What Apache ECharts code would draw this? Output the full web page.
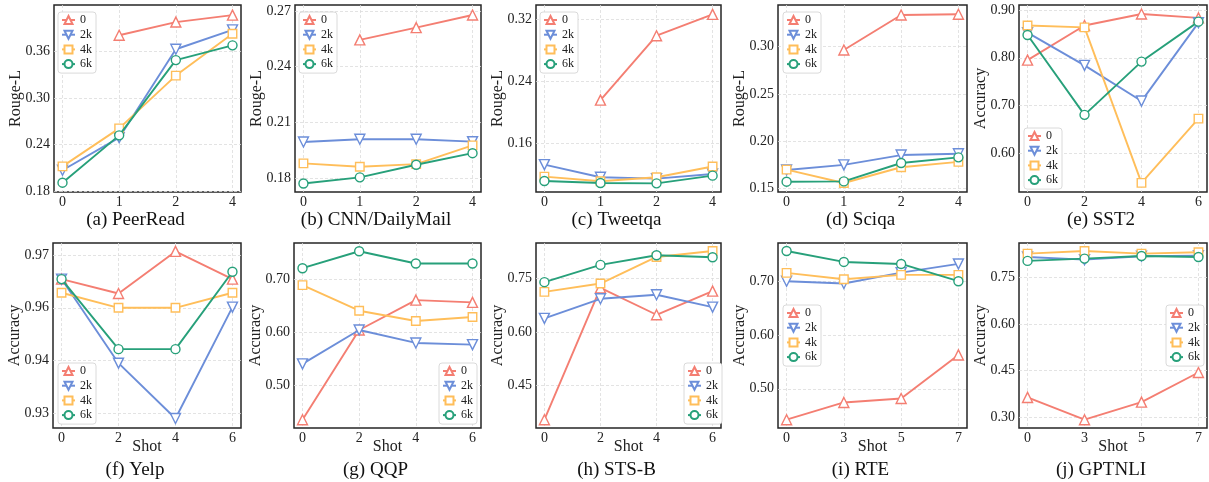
<!DOCTYPE html>
<html>
<head>
<meta charset="utf-8">
<script src="https://cdn.jsdelivr.net/npm/echarts@6/dist/echarts.min.js"></script>
<style>
html,body{margin:0;padding:0;background:#fff;}
#chart{width:1209px;height:482px;}
</style>
</head>
<body>
<div id="chart"></div>
<script>
// ---------- DATA ----------
const seriesNames = ['0', '2k', '4k', '6k'];

// (a) PeerRead
const peerReadX = ['0', '1', '2', '4'];
const peerReadYTicks = [0.18, 0.24, 0.30, 0.36];
const peerReadYLabels = ['0.18', '0.24', '0.30', '0.36'];
const peerRead0 = [null, 0.381, 0.398, 0.407];
const peerRead2k = [0.207, 0.249, 0.363, 0.388];
const peerRead4k = [0.212, 0.261, 0.329, 0.383];
const peerRead6k = [0.191, 0.252, 0.349, 0.368];

// (b) CNN/DailyMail
const cnnX = ['0', '1', '2', '4'];
const cnnYTicks = [0.18, 0.21, 0.24, 0.27];
const cnnYLabels = ['0.18', '0.21', '0.24', '0.27'];
const cnn0 = [null, 0.2544, 0.2610, 0.2678];
const cnn2k = [0.1994, 0.2009, 0.2009, 0.1996];
const cnn4k = [0.1879, 0.1861, 0.1875, 0.1976];
const cnn6k = [0.1771, 0.1804, 0.1872, 0.1934];

// (c) Tweetqa
const tweetX = ['0', '1', '2', '4'];
const tweetYTicks = [0.16, 0.24, 0.32];
const tweetYLabels = ['0.16', '0.24', '0.32'];
const tweet0 = [null, 0.2154, 0.2988, 0.3265];
const tweet2k = [0.1319, 0.1155, 0.1137, 0.1198];
const tweet4k = [0.1163, 0.1103, 0.1155, 0.1294];
const tweet6k = [0.1107, 0.1081, 0.1076, 0.1176];

// (d) Sciqa
const sciqaX = ['0', '1', '2', '4'];
const sciqaYTicks = [0.15, 0.20, 0.25, 0.30];
const sciqaYLabels = ['0.15', '0.20', '0.25', '0.30'];
const sciqa0 = [null, 0.2965, 0.3335, 0.3342];
const sciqa2k = [0.1698, 0.1751, 0.1855, 0.1869];
const sciqa4k = [0.1701, 0.1560, 0.1726, 0.1783];
const sciqa6k = [0.1574, 0.1577, 0.1771, 0.1831];

// (e) SST2
const sst2X = ['0', '2', '4', '6'];
const sst2YTicks = [0.60, 0.70, 0.80, 0.90];
const sst2YLabels = ['0.60', '0.70', '0.80', '0.90'];
const sst2_0 = [0.795, 0.868, 0.892, 0.884];
const sst2_2k = [0.853, 0.784, 0.709, 0.874];
const sst2_4k = [0.868, 0.864, 0.537, 0.672];
const sst2_6k = [0.848, 0.680, 0.792, 0.876];

// (f) Yelp
const yelpX = ['0', '2', '4', '6'];
const yelpYTicks = [0.93, 0.945, 0.96, 0.975];
const yelpYLabels = ['0.93', '0.94', '0.96', '0.97'];
const yelp0 = [0.9682, 0.9641, 0.9761, 0.9682];
const yelp2k = [0.9682, 0.9442, 0.9284, 0.9602];
const yelp4k = [0.9643, 0.9600, 0.9600, 0.9643];
const yelp6k = [0.9682, 0.9482, 0.9482, 0.9703];

// (g) QQP
const qqpX = ['0', '2', '4', '6'];
const qqpYTicks = [0.50, 0.60, 0.70];
const qqpYLabels = ['0.50', '0.60', '0.70'];
const qqp0 = [0.4356, 0.6044, 0.6606, 0.6563];
const qqp2k = [0.5406, 0.6044, 0.5800, 0.5769];
const qqp4k = [0.6888, 0.6406, 0.6213, 0.6288];
const qqp6k = [0.7206, 0.7525, 0.7294, 0.7294];

// (h) STS-B
const stsbX = ['0', '2', '4', '6'];
const stsbYTicks = [0.45, 0.60, 0.75];
const stsbYLabels = ['0.45', '0.60', '0.75'];
const stsb0 = [0.354, 0.7239, 0.6484, 0.7146];
const stsb2k = [0.6382, 0.6932, 0.7044, 0.6699];
const stsb4k = [0.7127, 0.7360, 0.8106, 0.8273];
const stsb6k = [0.7398, 0.7882, 0.8152, 0.8096];

// (i) RTE
const rteX = ['0', '3', '5', '7'];
const rteYTicks = [0.50, 0.60, 0.70];
const rteYLabels = ['0.50', '0.60', '0.70'];
const rte0 = [0.4426, 0.4747, 0.4821, 0.5630];
const rte2k = [0.7000, 0.6957, 0.7160, 0.7321];
const rte4k = [0.7154, 0.7037, 0.7117, 0.7117];
const rte6k = [0.7562, 0.7358, 0.7321, 0.7000];

// (j) GPTNLI
const gptX = ['0', '3', '5', '7'];
const gptYTicks = [0.30, 0.45, 0.60, 0.75];
const gptYLabels = ['0.30', '0.45', '0.60', '0.75'];
const gpt0 = [0.3632, 0.2914, 0.3482, 0.4436];
const gpt2k = [0.8164, 0.8079, 0.8186, 0.8207];
const gpt4k = [0.8271, 0.8357, 0.8271, 0.8314];
const gpt6k = [0.8036, 0.8111, 0.8196, 0.8164];

// ---------- LAYOUT / STYLE ----------
const FONT = "'Liberation Serif','Times New Roman',serif";
const COLORS = ['#F47E72', '#6C8ED9', '#FFBE5A', '#27A07A'];
const SYMBOLS = ['triangle', 'triangle', 'rect', 'circle'];
const ROTATE = [0, 180, 0, 0];
const SYMSIZE = [10, 10, 8.5, 9];

const panels = [
  {title:'(a) PeerRead', x:peerReadX, yt:peerReadYTicks, yl:peerReadYLabels, s:[peerRead0,peerRead2k,peerRead4k,peerRead6k],
   yname:'Rouge-L', xname:'', ymin:0.179, ymax:0.420, grid:[54,5,187,187], legend:{left:58,top:12}},
  {title:'(b) CNN/DailyMail', x:cnnX, yt:cnnYTicks, yl:cnnYLabels, s:[cnn0,cnn2k,cnn4k,cnn6k],
   yname:'Rouge-L', xname:'', ymin:0.1725, ymax:0.2732, grid:[295,5,186,187], legend:{left:299,top:12}},
  {title:'(c) Tweetqa', x:tweetX, yt:tweetYTicks, yl:tweetYLabels, s:[tweet0,tweet2k,tweet4k,tweet6k],
   yname:'Rouge-L', xname:'', ymin:0.0964, ymax:0.3386, grid:[536,5,185,187], legend:{left:540,top:12}},
  {title:'(d) Sciqa', x:sciqaX, yt:sciqaYTicks, yl:sciqaYLabels, s:[sciqa0,sciqa2k,sciqa4k,sciqa6k],
   yname:'Rouge-L', xname:'', ymin:0.1465, ymax:0.344, grid:[778,5,189,187], legend:{left:783,top:12}},
  {title:'(e) SST2', x:sst2X, yt:sst2YTicks, yl:sst2YLabels, s:[sst2_0,sst2_2k,sst2_4k,sst2_6k],
   yname:'Accuracy', xname:'', ymin:0.5178, ymax:0.911, grid:[1019,5,188,187], legend:{left:1024,top:128}},
  {title:'(f) Yelp', x:yelpX, yt:yelpYTicks, yl:yelpYLabels, s:[yelp0,yelp2k,yelp4k,yelp6k],
   yname:'Accuracy', xname:'Shot', ymin:0.9257, ymax:0.9785, grid:[53,243,188,185], legend:{left:58,top:363}},
  {title:'(g) QQP', x:qqpX, yt:qqpYTicks, yl:qqpYLabels, s:[qqp0,qqp2k,qqp4k,qqp6k],
   yname:'Accuracy', xname:'Shot', ymin:0.42, ymax:0.768, grid:[294,243,187,185], legend:{left:439,top:363}},
  {title:'(h) STS-B', x:stsbX, yt:stsbYTicks, yl:stsbYLabels, s:[stsb0,stsb2k,stsb4k,stsb6k],
   yname:'Accuracy', xname:'Shot', ymin:0.3307, ymax:0.8497, grid:[536,243,185,185], legend:{left:684,top:363}},
  {title:'(i) RTE', x:rteX, yt:rteYTicks, yl:rteYLabels, s:[rte0,rte2k,rte4k,rte6k],
   yname:'Accuracy', xname:'Shot', ymin:0.4272, ymax:0.771, grid:[778,243,189,185], legend:{left:783,top:305}},
  {title:'(j) GPTNLI', x:gptX, yt:gptYTicks, yl:gptYLabels, s:[gpt0,gpt2k,gpt4k,gpt6k],
   yname:'Accuracy', xname:'Shot', ymin:0.2646, ymax:0.8614, grid:[1019,243,188,185], legend:{left:1166,top:305}}
];

const option = {
  animation: false,
  backgroundColor: '#fff',
  grid: [], xAxis: [], yAxis: [], series: [], legend: [], graphic: []
};

panels.forEach((p, k) => {
  const [gl, gt, gw, gh] = p.grid;
  option.grid.push({left: gl, top: gt, width: gw, height: gh, show: true,
    borderColor: '#262626', borderWidth: 1.5, backgroundColor: 'transparent', containLabel: false});
  const idx = p.x.map((_, i) => i);
  option.xAxis.push({
    type: 'value', gridIndex: k, min: -0.15, max: idx.length - 1 + 0.15,
    axisLine: {show: false},
    axisTick: {show: false, customValues: idx},
    axisLabel: {customValues: idx, fontFamily: FONT, fontSize: 14, color: '#222', margin: 3,
      formatter: v => p.x[Math.round(v)]},
    splitLine: {show: true, lineStyle: {color: '#dcdcdc', type: [3, 2], width: 0.8}}
  });
  option.yAxis.push({
    type: 'value', gridIndex: k, min: p.ymin, max: p.ymax,
    name: p.yname, nameLocation: 'middle', nameGap: 30, nameMoveOverlap: false,
    nameTextStyle: {fontFamily: FONT, fontSize: 16, color: '#222'},
    axisLine: {show: false},
    axisTick: {show: false, customValues: p.yt},
    axisLabel: {customValues: p.yt, fontFamily: FONT, fontSize: 14, color: '#222', margin: 4,
      formatter: v => { const j = p.yt.findIndex(t => Math.abs(t - v) < 1e-9); return j >= 0 ? p.yl[j] : ''; }},
    splitLine: {show: true, lineStyle: {color: '#dcdcdc', type: [3, 2], width: 0.8}}
  });
  p.s.forEach((vals, si) => {
    option.series.push({
      type: 'line', name: seriesNames[si], xAxisIndex: k, yAxisIndex: k,
      data: vals.map((v, i) => [i, v]).filter(d => d[1] != null),
      symbol: SYMBOLS[si], symbolRotate: ROTATE[si], symbolSize: SYMSIZE[si],
      showAllSymbol: true,
      lineStyle: {color: COLORS[si], width: 1.9},
      itemStyle: {color: '#fff', borderColor: COLORS[si], borderWidth: 1.4},
      emphasis: {disabled: true}, z: 3 + si
    });
  });
  option.legend.push({
    orient: 'vertical', left: p.legend.left, top: p.legend.top,
    data: seriesNames, itemWidth: 13, itemHeight: 10, itemGap: 2.7,
    padding: [2, 4, 3, 3],
    backgroundColor: '#fff', borderColor: '#d0d0d0', borderWidth: 0.8, borderRadius: 3,
    textStyle: {fontFamily: FONT, fontSize: 12, color: '#222', lineHeight: 12},
    selectedMode: false, z: 10
  });
  if (p.xname) {
    option.graphic.push({
      type: 'text', x: gl + gw / 2, y: gt + gh + 19,
      style: {text: p.xname, font: '16px ' + FONT, fill: '#222', textAlign: 'center', textVerticalAlign: 'middle'}
    });
  }
  option.graphic.push({
    type: 'text', x: gl + gw / 2 - 12, y: k < 5 ? 220 : 470,
    style: {text: p.title, font: '19px ' + FONT, fill: '#111', textAlign: 'center', textVerticalAlign: 'middle'}
  });
});

const chart = echarts.init(document.getElementById('chart'), null, {renderer: 'canvas'});
chart.setOption(option);
</script>
</body>
</html>
